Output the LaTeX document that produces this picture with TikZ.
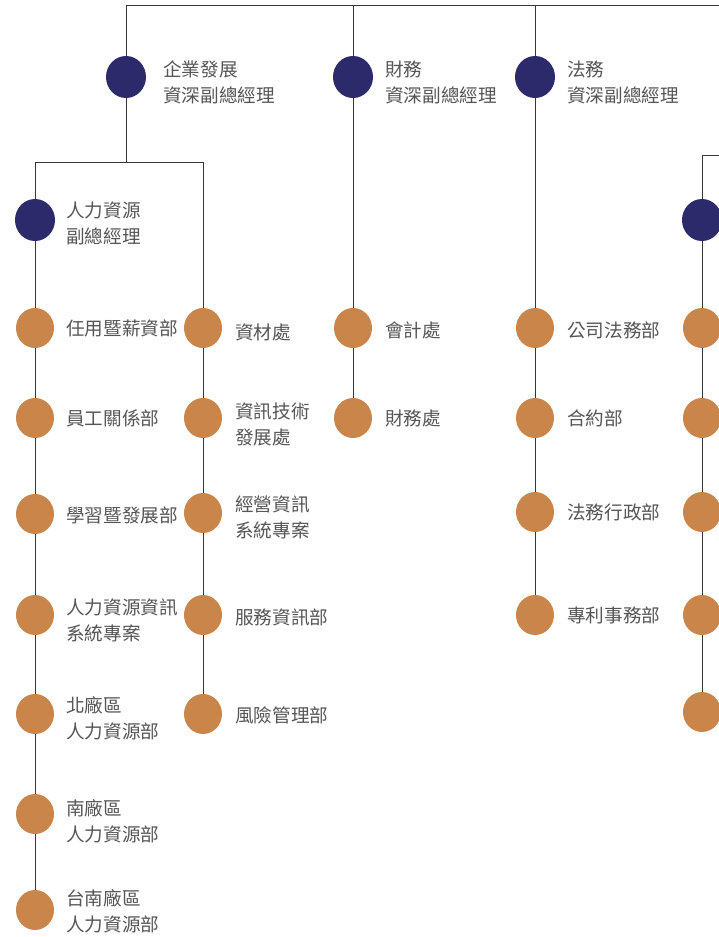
\documentclass[tikz,border=0pt]{standalone}
\usepackage{fontspec}
\newfontfamily\cjk{Noto Sans CJK TC}
\usetikzlibrary{shapes.geometric}
\definecolor{navyc}{RGB}{44,42,107}
\definecolor{orangec}{RGB}{201,133,74}
\definecolor{textgray}{RGB}{85,85,85}
\definecolor{linegray}{RGB}{55,55,55}
\begin{document}
\begin{tikzpicture}[x=1pt,y=-1pt,
  conn/.style={draw=linegray,line width=1pt},
  mgr/.style={ellipse,fill=navyc,minimum width=40pt,minimum height=42pt,inner sep=0pt},
  dept/.style={ellipse,fill=orangec,minimum width=38pt,minimum height=40pt,inner sep=0pt},
  lbl/.style={anchor=west,align=left,inner sep=0pt,font=\cjk\fontsize{18.6}{26}\selectfont,text=textgray}]
\useasboundingbox (0,0) rectangle (719,937);
% managers
\node[mgr] (m1) at (126,77) {};
\node[mgr] (m2) at (353,77) {};
\node[mgr] (m3) at (535,77) {};
\node[mgr] (m4) at (35,220) {};
\node[mgr] (m5) at (702,220) {};
% column 35
\node[dept] (a1) at (35,328) {};
\node[dept] (a2) at (35,418) {};
\node[dept] (a3) at (35,514) {};
\node[dept] (a4) at (35,615) {};
\node[dept] (a5) at (35,714) {};
\node[dept] (a6) at (35,814) {};
\node[dept] (a7) at (35,910) {};
% column 203
\node[dept] (b1) at (203,328) {};
\node[dept] (b2) at (203,418) {};
\node[dept] (b3) at (203,513) {};
\node[dept] (b4) at (203,615) {};
\node[dept] (b5) at (203,714) {};
% column 353
\node[dept] (c1) at (353,328) {};
\node[dept] (c2) at (353,418) {};
% column 535
\node[dept] (d1) at (535,328) {};
\node[dept] (d2) at (535,418) {};
\node[dept] (d3) at (535,512) {};
\node[dept] (d4) at (535,615) {};
% column 702
\node[dept] (e1) at (702,328) {};
\node[dept] (e2) at (702,418) {};
\node[dept] (e3) at (702,512) {};
\node[dept] (e4) at (702,615) {};
\node[dept] (e5) at (702,712) {};
% bus coordinates
\coordinate (t0) at (126,5);
\coordinate (tR) at (719,5);
\coordinate (h1) at (126,162);
\coordinate (hL) at (35,162);
\coordinate (hR) at (203,162);
\coordinate (r0) at (719,155);
\coordinate (r1) at (702,155);
% connectors
\draw[conn] (tR) -- (t0) -- (m1);
\draw[conn] (m2) -- (m2 |- t0);
\draw[conn] (m3) -- (m3 |- t0);
\draw[conn] (m1) -- (h1);
\draw[conn] (hL) -- (hR);
\draw[conn] (hL) -- (m4);
\draw[conn] (hR) -- (b1);
\draw[conn] (m4) -- (a1) -- (a2) -- (a3) -- (a4) -- (a5) -- (a6) -- (a7);
\draw[conn] (b1) -- (b2) -- (b3) -- (b4) -- (b5);
\draw[conn] (m2) -- (c1) -- (c2);
\draw[conn] (m3) -- (d1) -- (d2) -- (d3) -- (d4);
\draw[conn] (r0) -- (r1) -- (m5);
\draw[conn] (m5) -- (e1) -- (e2) -- (e3) -- (e4) -- (e5);
% labels
\node[lbl] (lm1) at (163,82) {企業發展\\資深副總經理};
\node[lbl] (lm2) at (385,82) {財務\\資深副總經理};
\node[lbl] (lm3) at (567,82) {法務\\資深副總經理};
\node[lbl] (lm4) at (66,223) {人力資源\\副總經理};
\node[lbl] (la1) at (66,328) {任用暨薪資部};
\node[lbl] (la2) at (66,418) {員工關係部};
\node[lbl] (la3) at (66,515) {學習暨發展部};
\node[lbl] (la4) at (66,620) {人力資源資訊\\系統專案};
\node[lbl] (la5) at (66,718) {北廠區\\人力資源部};
\node[lbl] (la6) at (66,821) {南廠區\\人力資源部};
\node[lbl] (la7) at (66,911) {台南廠區\\人力資源部};
\node[lbl] (lb1) at (235,332) {資材處};
\node[lbl] (lb2) at (235,424) {資訊技術\\發展處};
\node[lbl] (lb3) at (235,517) {經營資訊\\系統專案};
\node[lbl] (lb4) at (235,617) {服務資訊部};
\node[lbl] (lb5) at (235,715) {風險管理部};
\node[lbl] (lc1) at (385,330) {會計處};
\node[lbl] (lc2) at (385,418) {財務處};
\node[lbl] (ld1) at (567,330) {公司法務部};
\node[lbl] (ld2) at (567,418) {合約部};
\node[lbl] (ld3) at (567,512) {法務行政部};
\node[lbl] (ld4) at (567,615) {專利事務部};
\end{tikzpicture}
\end{document}
